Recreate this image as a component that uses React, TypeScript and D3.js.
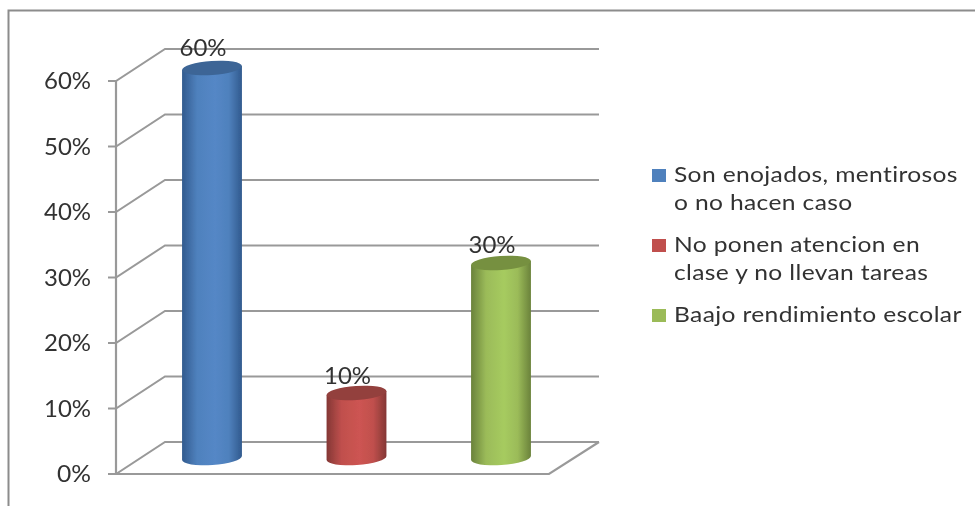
import React from "react";
import * as d3 from "d3";

const categories = ["Son enojados, mentirosos o no hacen caso", "No ponen atencion en clase y no llevan tareas", "Baajo rendimiento escolar"];
const values = [60, 10, 30];
const ticks = [0, 10, 20, 30, 40, 50, 60];
const legendLines = [["Son enojados, mentirosos", "o no hacen caso"], ["No ponen atencion en", "clase y no llevan tareas"], ["Baajo rendimiento escolar"]];
const palette = [
  { light: "#5487c6", mid: "#4f81bd", dark: "#315a8e", top: "#3c6596", swatch: "#4f81bd" },
  { light: "#cd5452", mid: "#c0504d", dark: "#843735", top: "#933f3d", swatch: "#c0504d" },
  { light: "#a6cb5f", mid: "#9bbb59", dark: "#6a823b", top: "#76903f", swatch: "#9bbb59" },
];

const W = 975, H = 506;
const grid = "#999";
const font = "Lato, 'Open Sans', sans-serif";
const y = d3.scaleLinear().domain([0, 60]).range([474, 81]);
const barY = d3.scaleLinear().domain([0, 60]).range([458, 68]);
const x = d3.scalePoint<number>().domain([0, 1, 2]).range([212, 501]);
const dx = 49, dy = -32, xFront = 116, xBackEnd = 599;
const rx = 30, ry = 7, tilt = -4;
const sx = 1.2;

export default function App() {
  return (
    <svg width={W} height={H} style={{ position: "absolute", left: 0, top: 0, background: "#fff" }} fontFamily={font}>
      <defs>
        <filter id="soft" x="-5%" y="-5%" width="110%" height="110%">
          <feGaussianBlur stdDeviation="0.5" />
        </filter>
        {palette.map((c, i) => (
          <linearGradient key={i} id={`g${i}`} x1="0" x2="1" y1="0" y2="0">
            <stop offset="0" stopColor={c.dark} />
            <stop offset="0.25" stopColor={c.mid} />
            <stop offset="0.55" stopColor={c.light} />
            <stop offset="0.78" stopColor={c.mid} />
            <stop offset="1" stopColor={c.dark} />
          </linearGradient>
        ))}
      </defs>
      <g filter="url(#soft)">
        <path d={`M8.5,506V10.5H975`} fill="none" stroke="#8c8c8c" strokeWidth={2} />
        {ticks.map((t) => (
          <g key={t}>
            <path
              d={`M${xFront - 8},${y(t)}H${xFront}L${xFront + dx},${y(t) + dy}H${xBackEnd}`}
              fill="none" stroke={grid} strokeWidth={2}
            />
            <text x={91} y={y(t) + 8} textAnchor="end" fontSize={23} fill="#333"
              textLength={t === 0 ? 34 : 47} lengthAdjust="spacingAndGlyphs">{t}%</text>
          </g>
        ))}
        <path d={`M${xFront},${y(60)}V${y(0)}H549L${xBackEnd},${y(0) + dy}`} fill="none" stroke={grid} strokeWidth={2.2} />
        {values.map((v, i) => {
          const cx = x(i)!;
          const top = barY(v), bot = barY(0);
          const a = (tilt * Math.PI) / 180;
          const ox = rx * Math.cos(a), oy = rx * Math.sin(a);
          return (
            <g key={i}>
              <path
                d={`M${cx - ox},${top - oy}L${cx - ox},${bot - oy}A${rx},${ry} ${tilt} 0 0 ${cx + ox},${bot + oy}L${cx + ox},${top + oy}Z`}
                fill={`url(#g${i})`}
              />
              <ellipse cx={cx} cy={top} rx={rx} ry={ry} transform={`rotate(${tilt} ${cx} ${top})`} fill={palette[i].top} />
              <text x={cx - 9} y={y(v) - 25} textAnchor="middle" fontSize={23} fill="#333"
                textLength={47} lengthAdjust="spacingAndGlyphs">{v}%</text>
            </g>
          );
        })}
        {categories.map((c, i) => {
          const swatchY = [169, 239, 309][i];
          return (
            <g key={c}>
              <rect x={652} y={swatchY} width={14} height={13} fill={palette[i].swatch} />
              {legendLines[i].map((line, j) => (
                <text key={j} x={674} y={swatchY + 13 + j * 28} fontSize={20.5} fill="#333"
                  transform={`translate(${674 * (1 - sx)},0) scale(${sx},1)`} letterSpacing={0.3}>{line}</text>
              ))}
            </g>
          );
        })}
      </g>
    </svg>
  );
}
